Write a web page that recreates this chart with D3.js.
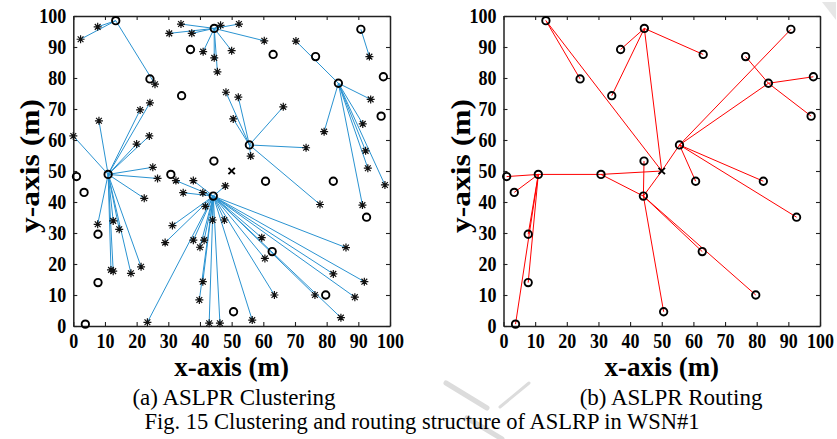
<!DOCTYPE html>
<html><head><meta charset="utf-8">
<script src="https://cdn.jsdelivr.net/npm/d3@7"></script>
<style>
html,body{margin:0;padding:0;background:#fff;}
svg{display:block;}
text{font-family:"Liberation Serif","Times New Roman",serif;}
</style></head>
<body>
<svg id="c" width="837" height="439"></svg>
<script>
// ---- data ----
const tickValues = [0,10,20,30,40,50,60,70,80,90,100];
const baseStation = [50, 50];
// cluster heads [x, y]
const headNodes = [
  [13.4,98.5],[44.5,96.0],[37.0,89.2],[24.2,79.7],[34.2,74.3],[63.1,87.6],
  [76.5,86.9],[90.8,95.7],[83.7,78.3],[97.9,80.4],[97.2,67.7],[55.6,58.4],
  [44.4,53.2],[1.0,48.2],[3.4,43.1],[11.0,48.9],[30.8,48.9],[44.2,41.9],
  [7.8,29.6],[7.8,14.0],[3.8,0.6],[50.6,4.6],[60.7,46.7],[82.1,46.7],
  [92.6,35.1],[62.8,24.0],[79.7,10.0]
];
// member nodes [x, y, headIndex]
const memberNodes = [
  [2.3,92.5,0],[7.7,96.5,0],[25.8,78.0,0],
  [34.0,97.4,1],[30.3,94.4,1],[37.4,94.4,1],[41.0,88.5,1],[44.5,86.5,1],[45.5,82.0,1],
  [46.5,97.0,1],[52.3,97.4,1],[60.3,92.0,1],[50.0,88.8,1],
  [93.5,86.9,7],
  [70.3,91.9,8],[93.9,73.1,8],[91.4,65.2,8],[79.2,62.7,8],[92.3,56.5,8],[93.0,50.9,8],
  [98.4,45.5,8],[91.3,39.0,8],
  [48.2,75.4,11],[52.1,73.8,11],[50.5,66.8,11],[66.3,70.7,11],[73.5,57.5,11],[56.0,54.8,11],[77.9,39.2,11],
  [0.0,61.3,15],[8.1,66.2,15],[21.1,69.7,15],[24.2,72.0,15],[20.0,58.7,15],[24.0,61.3,15],
  [25.1,51.2,15],[26.6,47.6,15],[22.4,41.2,15],[7.7,32.8,15],[12.6,33.9,15],[14.5,31.2,15],
  [11.9,18.1,15],[12.6,17.7,15],[18.2,17.0,15],[21.4,19.1,15],
  [32.4,46.9,17],[37.9,46.9,17],[34.7,43.0,17],[40.9,43.0,17],[48.0,45.2,17],[41.7,38.6,17],
  [44.0,34.2,17],[47.7,34.2,17],[31.3,32.4,17],[29.0,26.9,17],[37.9,27.7,17],[41.3,27.7,17],
  [40.0,25.4,17],[40.9,14.3,17],[39.8,8.4,17],[23.4,1.2,17],[42.9,0.9,17],[46.3,0.9,17],
  [56.5,1.9,17],[59.5,28.5,17],[60.5,21.8,17],[63.5,10.0,17],[76.3,10.0,17],[82.1,16.8,17],
  [86.1,25.3,17],[91.9,14.3,17],[88.9,9.3,17],[84.5,2.7,17]
];
// routing links between heads (-1 = base station)
const routeLinks = [
  [3,0],[0,-1],[2,1],[4,1],[1,-1],[1,5],[11,-1],[11,7],[11,8],[8,6],[8,9],[8,10],
  [11,22],[11,23],[11,24],[12,17],[17,-1],[16,17],[16,-1],[15,16],[13,15],[14,15],
  [18,15],[19,15],[20,15],[17,21],[17,25],[17,26]
];
const panelTitles = ["(a) ASLPR Clustering","(b) ASLPR Routing"];
const figCaption = "Fig. 15 Clustering and routing structure of ASLRP in WSN#1";

// ---- drawing ----
const STRETCH = 1.17; // tick labels / y titles look taller than wide in the reference
const svg = d3.select("#c");

// faint watermark
const wm = svg.append("g").attr("fill","none").attr("stroke","#dcdcdc").attr("stroke-linecap","round");
wm.append("path").attr("d","M446,383L487,408").attr("stroke-width",5);
wm.append("path").attr("d","M529,383L500,407").attr("stroke-width",3);
wm.append("path").attr("d","M467,418L502,439").attr("stroke-width",5);
wm.append("path").attr("d","M822,2L836,2L836,20Z").attr("fill","#e6e6e6").attr("stroke","none");

const panels = [
  {left:73.3, right:390, top:16, bottom:326},
  {left:503.5, right:820, top:16, bottom:326}
];
function mkScales(p){
  return {
    x: d3.scaleLinear().domain([0,100]).range([p.left,p.right]),
    y: d3.scaleLinear().domain([0,100]).range([p.bottom,p.top])
  };
}
function addText(parent, x, y, str, size, weight, stretch, rotate){
  return parent.append("text")
    .attr("transform", `translate(${x},${y}) scale(1,${stretch})` + (rotate ? " rotate(-90)" : ""))
    .attr("text-anchor","middle").attr("dy","0.35em")
    .attr("font-size", size).attr("font-weight", weight).attr("fill","#000").text(str);
}
function drawAxes(p, s, ylabX){
  const g = svg.append("g");
  const ax = [
    [d3.axisBottom(s.x), p.bottom, true, "x"],
    [d3.axisTop(s.x), p.top, false, "x"],
    [d3.axisLeft(s.y), p.left, true, "y"],
    [d3.axisRight(s.y), p.right, false, "y"]
  ];
  ax.forEach(([a,pos,lab,dir])=>{
    a.tickValues(tickValues).tickSizeInner(-4).tickSizeOuter(0).tickPadding(lab ? (dir==="x"?6:7) : 0);
    if(!lab) a.tickFormat("");
    const ag = g.append("g").attr("transform", dir==="x" ? `translate(0,${pos})` : `translate(${pos},0)`).call(a);
    ag.attr("font-family",null);
    ag.selectAll("path.domain").attr("stroke","#222").attr("stroke-width",1.5);
    ag.selectAll(".tick line").attr("stroke","#222").attr("stroke-width",1.1);
    ag.selectAll("text").attr("font-family","Liberation Serif, serif").attr("font-weight","bold")
      .attr("font-size",18).attr("fill","#000")
      .attr("transform",`scale(1,${STRETCH})`);
  });
  const cx = (p.left+p.right)/2;
  addText(g, cx, 367, "x-axis (m)", 27, "bold", 1, false);
  addText(g, ylabX, (p.top+p.bottom)/2 - 5, "y-axis (m)", 27, "bold", STRETCH, true);
}
function starPath(s){
  const d = s*0.72;
  return `M${-s},0L${s},0M0,${-s}L0,${s}M${-d},${-d}L${d},${d}M${-d},${d}L${d},${-d}`;
}
function xPath(s){ return `M${-s},${-s}L${s},${s}M${-s},${s}L${s},${-s}`; }

// Panel (a)
const pa = panels[0], sa = mkScales(pa);
drawAxes(pa, sa, 30);
const ga = svg.append("g");
ga.selectAll("line.m").data(memberNodes).join("line")
  .attr("x1",d=>sa.x(headNodes[d[2]][0])).attr("y1",d=>sa.y(headNodes[d[2]][1]))
  .attr("x2",d=>sa.x(d[0])).attr("y2",d=>sa.y(d[1]))
  .attr("stroke","#2a93d1").attr("stroke-width",1);
ga.selectAll("circle.h").data(headNodes).join("circle")
  .attr("cx",d=>sa.x(d[0])).attr("cy",d=>sa.y(d[1])).attr("r",3.7)
  .attr("fill","none").attr("stroke","#000").attr("stroke-width",1.9);
ga.selectAll("path.m").data(memberNodes).join("path")
  .attr("transform",d=>`translate(${sa.x(d[0])},${sa.y(d[1])})`)
  .attr("d",starPath(4)).attr("stroke","#111").attr("stroke-width",1.2).attr("fill","none");
ga.append("path").attr("transform",`translate(${sa.x(baseStation[0])},${sa.y(baseStation[1])})`)
  .attr("d",xPath(3.2)).attr("stroke","#000").attr("stroke-width",1.9);

// Panel (b)
const pb = panels[1], sb = mkScales(pb);
drawAxes(pb, sb, 461);
const gb = svg.append("g");
const nodeOf = i => i<0 ? baseStation : headNodes[i];
gb.selectAll("line.r").data(routeLinks).join("line")
  .attr("x1",d=>sb.x(nodeOf(d[0])[0])).attr("y1",d=>sb.y(nodeOf(d[0])[1]))
  .attr("x2",d=>sb.x(nodeOf(d[1])[0])).attr("y2",d=>sb.y(nodeOf(d[1])[1]))
  .attr("stroke","#ff0000").attr("stroke-width",1);
gb.selectAll("circle.h").data(headNodes).join("circle")
  .attr("cx",d=>sb.x(d[0])).attr("cy",d=>sb.y(d[1])).attr("r",3.7)
  .attr("fill","none").attr("stroke","#000").attr("stroke-width",1.9);
gb.append("path").attr("transform",`translate(${sb.x(baseStation[0])},${sb.y(baseStation[1])})`)
  .attr("d",xPath(3.2)).attr("stroke","#000").attr("stroke-width",1.9);

// captions
addText(svg, 234, 397, panelTitles[0], 23, "normal", 1, false);
addText(svg, 671, 397, panelTitles[1], 23, "normal", 1, false);
addText(svg, 422, 421, figCaption, 22.5, "normal", 1, false);
</script>
</body></html>
